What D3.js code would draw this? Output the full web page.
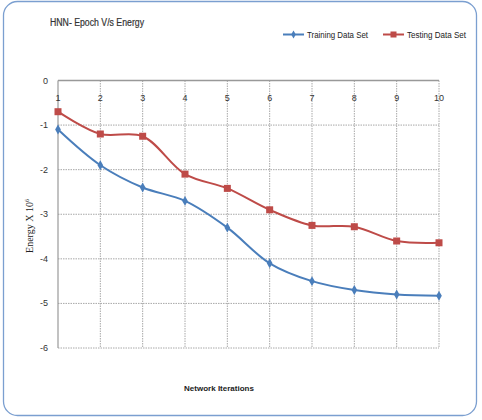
<!DOCTYPE html>
<html><head><meta charset="utf-8">
<script src="https://cdn.jsdelivr.net/npm/d3@7"></script>
<style>body{margin:0;background:#fff}</style>
</head><body>
<script>
const iterations = [1,2,3,4,5,6,7,8,9,10];
const training = [-1.1,-1.9,-2.4,-2.7,-3.3,-4.1,-4.5,-4.7,-4.8,-4.83];
const testing = [-0.7,-1.2,-1.25,-2.1,-2.42,-2.9,-3.25,-3.28,-3.6,-3.64];
const yTicks = [0,-1,-2,-3,-4,-5,-6];
const seriesNames = ["Training Data Set","Testing Data Set"];

const W=482,H=420;
const svg=d3.select("body").append("svg").attr("width",W).attr("height",H);
svg.append("rect").attr("x",3.5).attr("y",1.5).attr("width",473).attr("height",414).attr("rx",14)
  .attr("fill","#fff").attr("stroke","#7b9fd0").attr("stroke-width",1.3);

const x=d3.scaleLinear().domain([1,10]).range([58,439]);
const y=d3.scaleLinear().domain([0,-6]).range([80.5,348]);

const g=svg.append("g");
yTicks.forEach(t=>{
  if(t===0) return;
  g.append("line").attr("x1",x(1)).attr("x2",x(10)).attr("y1",y(t)).attr("y2",y(t))
   .attr("stroke","#a8a8a8").attr("stroke-width",1).attr("stroke-dasharray","1.5,1");
});
iterations.forEach(v=>{
  if(v===1) return;
  g.append("line").attr("x1",x(v)).attr("x2",x(v)).attr("y1",y(0)).attr("y2",y(-6))
   .attr("stroke","#a8a8a8").attr("stroke-width",1).attr("stroke-dasharray","1.5,1");
});
g.append("line").attr("x1",x(1)).attr("x2",x(10)).attr("y1",y(0)).attr("y2",y(0)).attr("stroke","#999").attr("stroke-width",1.5);
g.append("line").attr("x1",x(1)).attr("x2",x(1)).attr("y1",y(0)).attr("y2",y(-6)).attr("stroke","#999").attr("stroke-width",1.2);

svg.append("g").selectAll("text").data(yTicks).join("text")
  .attr("x",48).attr("y",d=>y(d)+3).attr("text-anchor","end")
  .attr("font-family","Liberation Sans, Arial").attr("font-size",9).attr("fill","#333").text(d=>d);
svg.append("g").selectAll("text").data(iterations).join("text")
  .attr("x",d=>x(d)).attr("y",101).attr("text-anchor","middle")
  .attr("font-family","Liberation Sans, Arial").attr("font-size",9).attr("fill","#333").text(d=>d);

const line=d3.line().x((d,i)=>x(iterations[i])).y(d=>y(d)).curve(d3.curveCatmullRom.alpha(0.5));
svg.append("path").datum(training).attr("d",line).attr("fill","none").attr("stroke","#4a7ebb").attr("stroke-width",2);
svg.append("path").datum(testing).attr("d",line).attr("fill","none").attr("stroke","#be4b48").attr("stroke-width",2);

const diamond=d3.symbol().type(d3.symbolDiamond).size(28);
svg.append("g").selectAll("path").data(training).join("path")
  .attr("d",diamond).attr("transform",(d,i)=>`translate(${x(iterations[i])},${y(d)})`).attr("fill","#4a7ebb");
svg.append("g").selectAll("rect").data(testing).join("rect")
  .attr("x",(d,i)=>x(iterations[i])-3.5).attr("y",d=>y(d)-3.5).attr("width",7).attr("height",7).attr("fill","#be4b48");

svg.append("text").attr("x",50).attr("y",26).attr("font-family","Liberation Sans, Arial")
  .attr("font-size",10).attr("fill","#333").attr("textLength",94).attr("lengthAdjust","spacingAndGlyphs")
  .attr("stroke","#333").attr("stroke-width",0.2).text("HNN- Epoch V/s Energy");

const lg=svg.append("g").attr("font-family","Liberation Sans, Arial").attr("font-size",8.5).attr("fill","#222");
lg.append("line").attr("x1",283).attr("x2",304).attr("y1",34.5).attr("y2",34.5).attr("stroke","#4a7ebb").attr("stroke-width",2);
lg.append("path").attr("d",d3.symbol().type(d3.symbolDiamond).size(18)).attr("transform","translate(293.5,34.5)").attr("fill","#4a7ebb");
lg.append("text").attr("x",307).attr("y",37.5).attr("textLength",61).attr("lengthAdjust","spacingAndGlyphs").text(seriesNames[0]);
lg.append("line").attr("x1",383).attr("x2",404).attr("y1",34.5).attr("y2",34.5).attr("stroke","#be4b48").attr("stroke-width",2);
lg.append("rect").attr("x",390.5).attr("y",31.5).attr("width",6).attr("height",6).attr("fill","#be4b48");
lg.append("text").attr("x",407).attr("y",37.5).attr("textLength",59).attr("lengthAdjust","spacingAndGlyphs").text(seriesNames[1]);

svg.append("text").attr("transform","translate(33,226) rotate(-90)").attr("text-anchor","middle")
  .attr("font-family","Liberation Serif, Times New Roman").attr("font-size",10).attr("fill","#222")
  .html('Energy X 10<tspan dy="-4" font-size="6">6</tspan>');
svg.append("text").attr("x",219).attr("y",391).attr("text-anchor","middle")
  .attr("font-family","Liberation Sans, Arial").attr("font-size",8).attr("font-weight","bold").attr("fill","#222")
  .text("Network Iterations");
</script>
</body></html>
